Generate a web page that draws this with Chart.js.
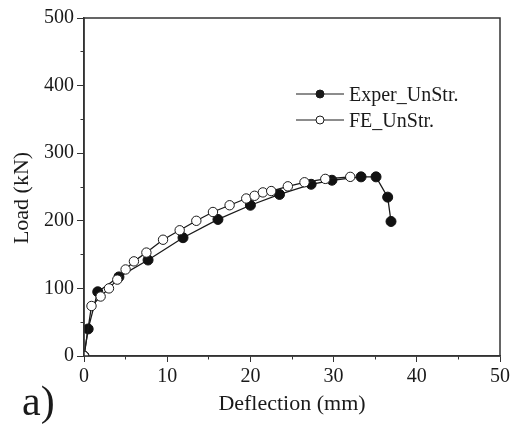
<!DOCTYPE html>
<html>
<head>
<meta charset="utf-8">
<script src="https://cdn.jsdelivr.net/npm/chart.js@4"></script>
<style>
  html, body { margin: 0; padding: 0; background: #fff; }
  canvas { display: block; }
</style>
</head>
<body>
<canvas id="loadChart" width="513" height="429"></canvas>
<script>
// load-deflection readings
const experDefl = [0, 0.5, 1.65, 4.2, 7.7, 11.9, 16.1, 20.0, 23.5, 27.3, 29.8, 33.3, 35.1, 36.5, 36.9];
const experLoad = [0, 40, 95, 117, 142, 175, 202, 223, 239, 254, 260, 265, 265, 235, 199];
const feDefl = [0, 0.9, 2.0, 3.0, 4.0, 5.0, 6.0, 7.5, 9.5, 11.5, 13.5, 15.5, 17.5, 19.5, 20.5, 21.5, 22.5, 24.5, 26.5, 29.0, 32.0];
const feLoad = [0, 74, 88, 100, 113, 128, 140, 153, 172, 186, 200, 213, 223, 233, 237, 242, 244, 251, 257, 262, 265];
const seriesNames = ["Exper_UnStr.", "FE_UnStr."];

const SERIF = '"Liberation Serif", "Times New Roman", serif';
const INK = "#1a1a1a";

function toPoints(xs, ys) {
  return xs.map((x, i) => ({ x: x, y: ys[i] }));
}

// frame, axis titles, panel letter and legend
const decorations = {
  id: "decorations",
  afterDraw(chart) {
    const ctx = chart.ctx;
    const a = chart.chartArea;
    ctx.save();
    ctx.strokeStyle = "#333";
    ctx.lineWidth = 1.5;
    ctx.strokeRect(a.left, a.top, a.right - a.left, a.bottom - a.top);

    ctx.fillStyle = INK;
    ctx.font = "22px " + SERIF;
    ctx.textAlign = "center";
    ctx.textBaseline = "alphabetic";
    ctx.fillText("Deflection (mm)", (a.left + a.right) / 2, 410);

    ctx.save();
    ctx.translate(28, 198);
    ctx.rotate(-Math.PI / 2);
    ctx.fillText("Load (kN)", 0, 0);
    ctx.restore();

    ctx.textAlign = "left";
    ctx.font = "42px " + SERIF;
    ctx.fillText("a)", 22, 415);

    // legend
    const rows = [
      { y: 94, fill: INK, text: seriesNames[0] },
      { y: 120, fill: "#fff", text: seriesNames[1] },
    ];
    ctx.font = "20px " + SERIF;
    rows.forEach((r) => {
      ctx.strokeStyle = INK;
      ctx.lineWidth = 1;
      ctx.beginPath();
      ctx.moveTo(296, r.y);
      ctx.lineTo(344, r.y);
      ctx.stroke();
      ctx.beginPath();
      ctx.arc(320, r.y, 4, 0, Math.PI * 2);
      ctx.fillStyle = r.fill;
      ctx.fill();
      ctx.stroke();
      ctx.fillStyle = INK;
      ctx.fillText(r.text, 349, r.y + 7);
    });
    ctx.restore();
  },
};

new Chart(document.getElementById("loadChart"), {
  type: "line",
  data: {
    datasets: [
      {
        label: seriesNames[0],
        data: toPoints(experDefl, experLoad),
        borderColor: INK,
        borderWidth: 1.3,
        pointRadius: 5,
        pointBackgroundColor: "#111",
        pointBorderColor: "#111",
        pointBorderWidth: 1,
        tension: 0,
        order: 2,
      },
      {
        label: seriesNames[1],
        data: toPoints(feDefl, feLoad),
        borderColor: INK,
        borderWidth: 1.3,
        pointRadius: 4.7,
        pointBackgroundColor: "#fff",
        pointBorderColor: INK,
        pointBorderWidth: 1,
        tension: 0,
        order: 1,
      },
    ],
  },
  options: {
    responsive: false,
    animation: false,
    layout: { padding: { top: 18, right: 13, left: 0, bottom: 0 } },
    plugins: { legend: { display: false }, tooltip: { enabled: false } },
    scales: {
      x: {
        type: "linear",
        min: 0,
        max: 50,
        afterFit: (s) => { s.height = 73; },
        border: { display: true, color: "#333", width: 1.5 },
        grid: {
          drawOnChartArea: false,
          tickLength: 6,
          tickColor: "#333",
          tickBorderDash: (c) => (c.tick && c.tick.value % 10 !== 0 ? [3, 20] : []),
        },
        ticks: {
          stepSize: 5,
          autoSkip: false,
          maxRotation: 0,
          padding: 3,
          color: INK,
          font: { family: SERIF, size: 20 },
          callback: (v) => (v % 10 === 0 ? v : ""),
        },
      },
      y: {
        min: 0,
        max: 500,
        afterFit: (s) => { s.width = 84; },
        border: { display: true, color: "#333", width: 1.5 },
        grid: {
          drawOnChartArea: false,
          tickLength: 7,
          tickColor: "#333",
          tickBorderDash: (c) => (c.tick && c.tick.value % 100 !== 0 ? [0, 3.5, 20] : []),
        },
        ticks: {
          stepSize: 50,
          autoSkip: false,
          padding: 3,
          color: INK,
          font: { family: SERIF, size: 20 },
          callback: (v) => (v % 100 === 0 ? v : ""),
        },
      },
    },
  },
  plugins: [decorations],
});
</script>
</body>
</html>
